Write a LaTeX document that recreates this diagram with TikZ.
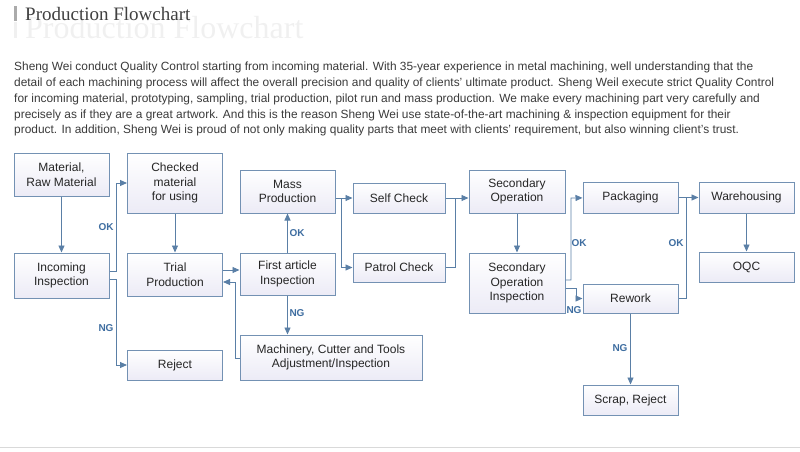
\documentclass[tikz,border=0pt]{standalone}
\usepackage{fontspec}
\setmainfont{Liberation Sans}
\newfontfamily\titlefont{Liberation Serif}
\usetikzlibrary{arrows.meta}
\definecolor{bord}{HTML}{7391B3}
\definecolor{boxfill}{HTML}{ECEBF6}
\definecolor{arr}{HTML}{5A7FA6}
\definecolor{lab}{HTML}{3E6DA0}
\definecolor{para}{HTML}{3A3A3A}
\begin{document}
\begin{tikzpicture}[x=1pt,y=-1pt,
  box/.style={draw=bord,line width=1pt,top color=white,bottom color=boxfill,minimum width=#1,align=center,font=\fontsize{12}{14.5}\selectfont,text=black!85,inner sep=0pt},
  box/.default=95,
  con/.style={draw=arr,line width=0.9pt,-{Triangle[length=7pt,width=6pt]}},
  ln/.style={draw=arr,line width=0.9pt},
  lbl/.style={font=\bfseries\fontsize{10}{12}\selectfont,text=lab},
  ptext/.style={anchor=west,font=\fontsize{11.9}{14}\selectfont,text=para,inner sep=0pt}]
\useasboundingbox (0,0) rectangle (800,452);
% header
\node[anchor=west,font=\titlefont\fontsize{32}{36}\selectfont,text=black!6,inner sep=0pt] (ghost) at (25,28) {Production Flowchart};
\fill[black!6] (14,22) rectangle (17,38);
\fill[black!33] (14,6) rectangle (17,21);
\node[anchor=west,font=\titlefont\fontsize{19}{22}\selectfont,text=black!75,inner sep=0pt] (title) at (25,14.5) {Production Flowchart};
% paragraph
\node[ptext] (p1) at (14,67) {Sheng Wei conduct Quality Control starting from incoming material. With 35-year experience in metal machining, well understanding that the};
\node[ptext] (p2) at (14,83) {detail of each machining process will affect the overall precision and quality of clients' ultimate product. Sheng Weil execute strict Quality Control};
\node[ptext] (p3) at (14,99) {for incoming material, prototyping, sampling, trial production, pilot run and mass production. We make every machining part very carefully and};
\node[ptext] (p4) at (14,115) {precisely as if they are a great artwork. And this is the reason Sheng Wei use state-of-the-art machining \& inspection equipment for their};
\node[ptext] (p5) at (14,130) {product. In addition, Sheng Wei is proud of not only making quality parts that meet with clients' requirement, but also winning client's trust.};
\draw[black!15,line width=0.8pt] (0,447) -- (800,447);
% boxes
\node[box,minimum height=43] (mat) at (61.5,174.5) {Material,\\Raw Material};
\node[box,minimum height=45] (inc) at (61.5,275.5) {Incoming\\Inspection};
\node[box,minimum height=60] (chk) at (175,183) {Checked\\material\\for using};
\node[box,minimum height=43] (tri) at (175,274.5) {Trial\\Production};
\node[box,minimum height=30] (rej) at (175,365) {Reject};
\node[box,minimum height=43] (mass) at (287.5,191.5) {Mass\\Production};
\node[box,minimum height=42] (fa) at (287.5,274) {First article\\Inspection};
\node[box=182,minimum height=45] (mach) at (331,357.5) {Machinery, Cutter and Tools\\Adjustment/Inspection};
\node[box=92,minimum height=30] (self) at (399,198) {Self Check};
\node[box=92,minimum height=29] (pat) at (399,267.5) {Patrol Check};
\node[box=96,minimum height=43] (so) at (517,191.5) {Secondary\\Operation};
\node[box=96,minimum height=60] (soi) at (517,283) {Secondary\\Operation\\Inspection};
\node[box,minimum height=31] (pack) at (630.5,197.5) {Packaging};
\node[box,minimum height=29] (rew) at (630.5,298.5) {Rework};
\node[box,minimum height=30] (scr) at (630.5,400) {Scrap, Reject};
\node[box,minimum height=31] (ware) at (746.5,197.5) {Warehousing};
\node[box,minimum height=30] (oqc) at (746.5,267) {OQC};
% connectors
\draw[con] (mat) -- (inc);
\draw[con] (inc.east|-0,271) -| (116,183) -- (chk.west|-0,183);
\draw[con] (inc.east|-0,279) -| (116,365) -- (rej);
\node[lbl] (ok1) at (106,227) {OK};
\node[lbl] (ng1) at (106,328) {NG};
\draw[con] (chk) -- (tri);
\draw[con] (tri.east|-0,270) -- (fa.west|-0,270);
\draw[con] (mach.west|-0,358) -| (235,282) -- (tri.east|-0,282);
\draw[con] (fa) -- (mass);
\node[lbl] (ok2) at (297,233) {OK};
\draw[con] (fa) -- (mach.north-|fa);
\node[lbl] (ng2) at (297,313) {NG};
\draw[con] (mass.east|-0,198) -- (self);
\draw[con] (341,198) |- (pat);
\draw[ln] (self) -| (455,267.5) -- (pat);
\draw[con] (455,198) -- (so.west|-0,198);
\draw[con] (so) -- (soi);
\draw[con] (soi.east|-0,280) -| (571,198) -- (pack);
\draw[con] (soi.east|-0,288) -| (576,298.5) -- (rew);
\node[lbl] (ok3) at (579,243) {OK};
\node[lbl] (ng3) at (574,310) {NG};
\draw[con] (rew) -- (scr);
\node[lbl] (ng4) at (620,348) {NG};
\draw[con] (pack) -- (ware);
\draw[ln] (rew) -| (686,197.5);
\node[lbl] (ok4) at (676,243) {OK};
\draw[con] (ware) -- (oqc);
\end{tikzpicture}
\end{document}
